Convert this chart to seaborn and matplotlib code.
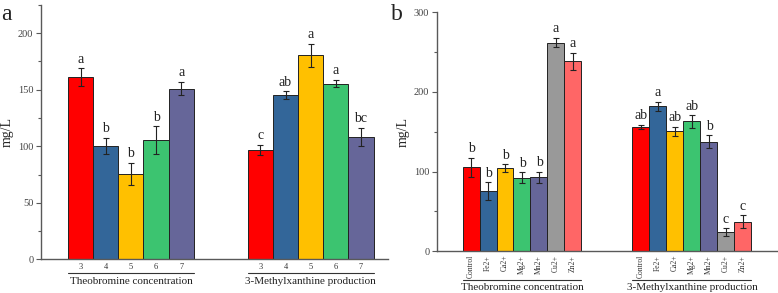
import matplotlib

matplotlib.use("Agg")
import matplotlib.pyplot as plt
import matplotlib.transforms as mtransforms
from matplotlib.ticker import MultipleLocator
import numpy as np
import pandas as pd
import seaborn as sns

GROUPS = ["Theobromine concentration", "3-Methylxanthine production"]

# panel a: pH levels
A_LEVELS = ["3", "4", "5", "6", "7"]
A_MEAN = [[161, 100.5, 75.5, 105.5, 151], [97, 145, 180.5, 155.5, 108.5]]
A_ERR = [[8, 7, 10, 12, 6], [4.5, 3.5, 10, 3.5, 8]]
A_LETTERS = [["a", "b", "b", "b", "a"], ["c", "ab", "a", "a", "bc"]]

# panel b: metal ions
B_LEVELS = ["Control", "Fe2+", "Ca2+", "Mg2+", "Mn2+", "Cu2+", "Zn2+"]
B_MEAN = [[105.5, 75.5, 104.5, 92.5, 93, 262, 238.5], [156, 182, 150.5, 163, 137.5, 24, 37]]
B_ERR = [[12, 11, 4.5, 6.5, 7, 6, 11], [3, 6, 6, 8, 8, 5, 8]]
B_LETTERS = [["b", "b", "b", "b", "b", "a", "a"], ["ab", "a", "ab", "ab", "b", "c", "c"]]

COLORS = ["#ff0000", "#336699", "#ffc000", "#3cc470", "#666699", "#999999", "#ff6666"]
AXIS = "#595959"
SERIF = ["Liberation Serif", "DejaVu Serif"]


def make_frame(levels, means, errs, letters):
    rows = []
    for g, group in enumerate(GROUPS):
        for i, level in enumerate(levels):
            rows.append((group, level, means[g][i], errs[g][i], letters[g][i]))
    return pd.DataFrame(rows, columns=["group", "level", "value", "err", "letter"])


def draw_panel(ax, df, levels, ylim, major, minor, xmax, rotate, line_off, group_off):
    palette = dict(zip(levels, COLORS[: len(levels)]))
    sns.barplot(
        data=df, x="group", y="value", hue="level", order=GROUPS, hue_order=levels,
        palette=palette, width=0.7, errorbar=None, edgecolor="#222222", linewidth=0.7,
        saturation=1, legend=False, ax=ax,
    )
    centers, labels = [], []
    for container, level in zip(ax.containers, levels):
        for bar, group in zip(container, GROUPS):
            row = df[(df["group"] == group) & (df["level"] == level)].iloc[0]
            x = bar.get_x() + bar.get_width() / 2
            top = bar.get_height() + row["err"]
            ax.errorbar(x, bar.get_height(), yerr=row["err"], fmt="none", ecolor="#222222",
                        elinewidth=0.8, capsize=2.5, capthick=0.8)
            ax.text(x, top + ylim * 0.01, row["letter"], ha="center", va="bottom",
                    fontsize=10, family=SERIF, color="#222222")
            centers.append(x)
            labels.append(level)
    ax.set_xticks(centers)
    ax.set_xticklabels(labels, rotation=90 if rotate else 0, fontsize=5.5 if rotate else 6,
                       family=SERIF, color="#333333")
    ax.tick_params(axis="x", length=0, pad=2.5)
    ax.set_xlim(-0.5, xmax)
    ax.set_ylim(0, ylim)
    ax.yaxis.set_major_locator(MultipleLocator(major))
    ax.yaxis.set_minor_locator(MultipleLocator(minor))
    ax.tick_params(axis="y", which="both", left=True, direction="out", color=AXIS, width=0.8)
    ax.tick_params(axis="y", which="major", length=3.5, labelsize=7.5, labelcolor="#444444", pad=2)
    ax.tick_params(axis="y", which="minor", length=2)
    for lab in ax.get_yticklabels():
        lab.set_family(SERIF)
    ax.set_xlabel("")
    ax.set_ylabel("mg/L", fontsize=10, family=SERIF, labelpad=3)
    for side in ["top", "right"]:
        ax.spines[side].set_visible(False)
    for side in ["left", "bottom"]:
        ax.spines[side].set_color(AXIS)
        ax.spines[side].set_linewidth(1.0)

    trans = mtransforms.blended_transform_factory(ax.transData, ax.transAxes)
    for g, group in enumerate(GROUPS):
        ax.plot([g - 0.35, g + 0.35], [line_off, line_off], transform=trans, color="#333333",
                lw=0.8, clip_on=False)
        ax.text(g, group_off, group, transform=trans, ha="center", va="top", fontsize=8,
                family=SERIF, color="#222222")
    return ax


sns.set_theme(style="white")
plt.rcParams["font.family"] = SERIF

fig = plt.figure(figsize=(7.78, 2.93), dpi=100)
ax_a = fig.add_axes([0.0527, 0.115, 0.446, 0.868])
ax_b = fig.add_axes([0.5617, 0.1423, 0.437, 0.8157])

df_a = make_frame(A_LEVELS, A_MEAN, A_ERR, A_LETTERS)
df_b = make_frame(B_LEVELS, B_MEAN, B_ERR, B_LETTERS)

draw_panel(ax_a, df_a, A_LEVELS, 225, 50, 25, 1.43, False, -0.053, -0.068)
draw_panel(ax_b, df_b, B_LEVELS, 300, 100, 50, 1.5, True, -0.12, -0.132)

fig.text(0.002, 0.985, "a", fontsize=17, family=SERIF, va="top", ha="left", color="#222222")
fig.text(0.503, 0.985, "b", fontsize=17, family=SERIF, va="top", ha="left", color="#222222")

fig.savefig("out.png", dpi=100)
